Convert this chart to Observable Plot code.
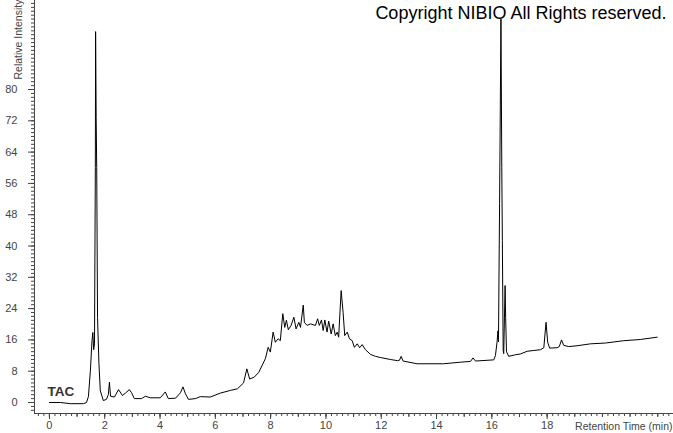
<!DOCTYPE html>
<html><head><meta charset="utf-8">
<script src="https://cdn.jsdelivr.net/npm/d3@7"></script>
<script src="https://cdn.jsdelivr.net/npm/@observablehq/plot@0.6"></script>
<style>body{margin:0;background:#fff} #chart svg{display:block}</style>
</head><body><div id="chart"></div>
<script>
const time = [0,0.40,0.76,1.23,1.34,1.41,1.48,1.54,1.57,1.60,1.63,1.66,1.67,1.69,1.71,1.74,1.79,1.84,1.95,2.06,2.13,2.17,2.21,2.35,2.50,2.64,2.75,2.89,2.97,3.07,3.33,3.47,3.65,4.01,4.19,4.30,4.56,4.74,4.83,4.92,5.03,5.28,5.46,5.82,6.18,6.55,6.80,7.02,7.14,7.24,7.41,7.57,7.81,7.91,7.99,8.09,8.17,8.27,8.35,8.44,8.51,8.57,8.64,8.74,8.84,8.92,9.02,9.08,9.18,9.22,9.32,9.44,9.62,9.70,9.76,9.84,9.90,9.96,10.04,10.10,10.19,10.26,10.34,10.41,10.46,10.55,10.62,10.68,10.77,10.85,10.95,11.03,11.13,11.22,11.31,11.43,11.61,11.79,11.97,12.33,12.58,12.66,12.72,12.79,13.30,14.25,14.86,15.23,15.32,15.41,16.07,16.13,16.19,16.22,16.24,16.28,16.33,16.36,16.38,16.41,16.43,16.48,16.50,16.53,16.61,16.85,17.03,17.28,17.52,17.76,17.88,17.96,18.02,18.09,18.36,18.44,18.52,18.60,18.78,19.08,19.57,20.11,20.77,21.37,21.98];
const intensity = [0,0,-0.3,-0.3,0,1.5,8,15.8,17.9,13.5,15,60,94.8,72.8,60,21.7,10,3,0.5,0.8,2,5.2,1.6,1.4,3.3,1.8,2.4,3.3,2.5,1.0,1.0,1.6,1.2,1.2,2.7,1.0,1.1,2.5,4.0,2.2,0.8,1.0,1.5,1.4,2.4,3.1,3.5,5.0,8.6,6.0,6.5,7.7,11.2,14.1,12.9,18.0,15.4,16.3,15.8,22.7,19.2,21.0,18.6,19.7,21.8,18.8,20.5,19.2,24.9,20.5,19.7,20.1,19.7,21.4,19.7,21.1,18.4,21.1,18.0,20.8,17.5,20.1,17.1,18.0,16.7,28.6,23.1,17.1,18.0,16.3,15.8,14.1,15.0,14.0,14.8,13.5,12.3,11.8,11.5,11.0,10.7,10.8,11.8,10.6,9.9,9.9,10.3,10.5,11.4,10.6,10.9,12,15.5,18.3,15.5,50.9,98,60,41.4,13.3,12.5,29.9,21.7,13,11.8,12.2,12.4,13.1,13.3,13.5,14.0,20.5,15.4,13.9,14.0,14.3,16.0,14.6,14.3,14.5,15.0,15.2,15.8,16.1,16.7];
const xTicks = [0,2,4,6,8,10,12,14,16,18];
const yTicks = [0,8,16,24,32,40,48,56,64,72,80];
const title = "Copyright NIBIO All Rights reserved.";
const xLabel = "Retention Time (min)";
const yLabel = "Relative Intensity";
const seriesLabel = "TAC";

const data = time.map((t, i) => ({time: t, intensity: intensity[i]}));
const xDomain = [-0.54, 22.57];
const yDomain = [-2.81, 102.75];
const xMinor = d3.range(0, 115).map(i => +(i * 0.2 - 0.4).toFixed(1)).filter(v => v >= xDomain[0] && v <= xDomain[1]);
const xMid = d3.range(0, 23);
const yMinor = d3.range(-2, 103);
const font = "'Liberation Sans', Arial, sans-serif";
const axisColor = "#444";

const chart = Plot.plot({
  width: 673, height: 433,
  marginLeft: 34, marginRight: 0, marginTop: 0, marginBottom: 20,
  style: {fontFamily: font, fontSize: "11px", background: "#fff", overflow: "visible"},
  x: {domain: xDomain, label: null},
  y: {domain: yDomain, label: null},
  marks: [
    Plot.axisX({ticks: xMinor, tickSize: 3, tickFormat: () => "", label: null, color: axisColor}),
    Plot.axisX({ticks: xMid, tickSize: 4, tickFormat: () => "", label: null, color: axisColor}),
    Plot.axisX({ticks: xTicks, tickSize: 6, tickPadding: 2, label: null, color: axisColor}),
    Plot.axisY({ticks: yMinor, tickSize: 3, tickFormat: () => "", label: null, color: axisColor}),
    Plot.axisY({ticks: yTicks, tickSize: 6, tickPadding: 11, label: null, color: axisColor}),
    Plot.ruleX([xDomain[0]], {stroke: axisColor}),
    Plot.ruleY([yDomain[0]], {stroke: axisColor}),
    Plot.line(data, {x: "time", y: "intensity", stroke: "#000", strokeWidth: 1}),
    Plot.text([title], {frameAnchor: "top-right", textAnchor: "end", lineAnchor: "middle", dx: -7, dy: 13, fontSize: 18, fill: "#000"}),
    Plot.text([xLabel], {frameAnchor: "bottom-right", textAnchor: "end", lineAnchor: "middle", dx: -1, dy: 13, fontSize: 10.5, fill: axisColor}),
    Plot.text([yLabel], {frameAnchor: "top-left", textAnchor: "start", lineAnchor: "middle", rotate: -90, dx: -16, dy: 79, fontSize: 10.5, fill: axisColor}),
    Plot.text([seriesLabel], {frameAnchor: "bottom-left", textAnchor: "start", lineAnchor: "bottom", dx: 13, dy: -18, fontSize: 13.5, fontWeight: "bold", fill: "#333"})
  ]
});
document.getElementById("chart").appendChild(chart);
</script>
</body></html>
